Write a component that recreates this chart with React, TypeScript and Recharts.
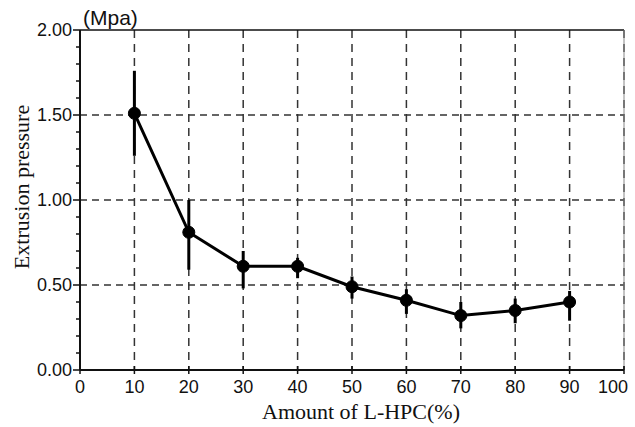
import {
  ComposedChart,
  Line,
  XAxis,
  YAxis,
  CartesianGrid,
  ErrorBar,
  ReferenceLine,
} from "recharts"

// amount of L-HPC (%) and measured extrusion pressure (MPa)
const amounts = [10, 20, 30, 40, 50, 60, 70, 80, 90]
const pressure = [1.51, 0.81, 0.61, 0.61, 0.49, 0.41, 0.32, 0.35, 0.4]
const errLow = [0.25, 0.22, 0.13, 0.07, 0.07, 0.08, 0.075, 0.075, 0.11]
const errHigh = [0.25, 0.19, 0.09, 0.05, 0.06, 0.065, 0.08, 0.07, 0.065]

const xTicks = [0, 10, 20, 30, 40, 50, 60, 70, 80, 90, 100]
const yTicks = [
  0, 0.1, 0.2, 0.3, 0.4, 0.5, 0.6, 0.7, 0.8, 0.9, 1, 1.1, 1.2, 1.3, 1.4, 1.5,
  1.6, 1.7, 1.8, 1.9, 2,
]
const yGrid = [0.5, 1, 1.5]

const data = amounts.map((a, i) => ({
  x: a,
  p: pressure[i],
  err: [errLow[i], errHigh[i]],
}))

const SANS = "'Liberation Sans', Arial, sans-serif"
const SERIF = "'Liberation Serif', 'Times New Roman', serif"

const YTick = (props: any) => {
  const { x, y, payload } = props
  const v = payload.value as number
  const major = Math.abs(v * 2 - Math.round(v * 2)) < 1e-6
  const axisX = x + 8
  return (
    <g>
      <line
        x1={axisX - (major ? 7 : 4)}
        x2={axisX}
        y1={y}
        y2={y}
        stroke="#111"
        strokeWidth={1.5}
      />
      {major && (
        <text
          x={x}
          y={y}
          dy="0.36em"
          textAnchor="end"
          fontFamily={SANS}
          fontSize={18}
          fill="#111"
        >
          {v.toFixed(2)}
        </text>
      )}
    </g>
  )
}

const XTick = (props: any) => {
  const { x, y, payload } = props
  // the last label sits a little left so it stays on the page
  const last = payload.value === xTicks[xTicks.length - 1]
  return (
    <g>
      <line x1={x} x2={x} y1={y - 4} y2={y + 4} stroke="#111" strokeWidth={1.5} />
      <text
        x={last ? x + 4 : x}
        y={y + 23}
        textAnchor={last ? "end" : "middle"}
        fontFamily={SANS}
        fontSize={18}
        fill="#111"
      >
        {payload.value}
      </text>
    </g>
  )
}

export default function App() {
  return (
    <div style={{ position: "absolute", left: 0, top: 0, background: "#fff" }}>
      <ComposedChart
        width={635}
        height={427}
        data={data}
        margin={{ top: 30, right: 11, bottom: 0, left: 0 }}
      >
        <CartesianGrid
          horizontal={false}
          stroke="#333"
          strokeWidth={1.5}
          strokeDasharray="8 6"
        />
        {yGrid.map((v) => (
          <ReferenceLine
            key={v}
            y={v}
            stroke="#333"
            strokeWidth={1.5}
            strokeDasharray="7 5"
          />
        ))}
        <ReferenceLine
          y={2}
          stroke="#111"
          strokeWidth={1.5}
          label={{
            content: (p: any) => (
              <text
                x={p.viewBox.x + 3}
                y={p.viewBox.y - 5}
                fontFamily={SANS}
                fontSize={21}
                fill="#111"
              >
                (Mpa)
              </text>
            ),
          }}
        />
        <ReferenceLine x={100} stroke="#888" strokeWidth={1} />
        <XAxis
          dataKey="x"
          type="number"
          domain={[0, 100]}
          ticks={xTicks}
          interval={0}
          height={57}
          tickSize={0}
          tickMargin={0}
          tickLine={false}
          tick={<XTick />}
          axisLine={{ stroke: "#111", strokeWidth: 2 }}
          label={{
            content: (p: any) => (
              <text
                x={p.viewBox.x + p.viewBox.width / 2 + 9}
                y={419}
                textAnchor="middle"
                fontFamily={SERIF}
                fontSize={22}
                fill="#111"
              >
                Amount of L-HPC(%)
              </text>
            ),
          }}
        />
        <YAxis
          type="number"
          domain={[0, 2]}
          ticks={yTicks}
          interval={0}
          width={80}
          tickSize={0}
          tickMargin={8}
          tickLine={false}
          tick={<YTick />}
          axisLine={{ stroke: "#111", strokeWidth: 2 }}
          label={{
            content: (p: any) => {
              const cx = 21
              const cy = p.viewBox.y + p.viewBox.height / 2 - 13
              return (
                <text
                  x={cx}
                  y={cy}
                  transform={`rotate(-90 ${cx} ${cy})`}
                  textAnchor="middle"
                  dominantBaseline="central"
                  fontFamily={SERIF}
                  fontSize={22}
                  fill="#111"
                >
                  Extrusion pressure
                </text>
              )
            },
          }}
        />
        <Line
          type="linear"
          dataKey="p"
          stroke="#000"
          strokeWidth={3}
          dot={{ r: 6, fill: "#000", stroke: "#000", strokeWidth: 1 }}
          isAnimationActive={false}
        >
          <ErrorBar
            dataKey="err"
            direction="y"
            width={0}
            stroke="#000"
            strokeWidth={3}
            isAnimationActive={false}
          />
        </Line>
      </ComposedChart>
    </div>
  )
}
